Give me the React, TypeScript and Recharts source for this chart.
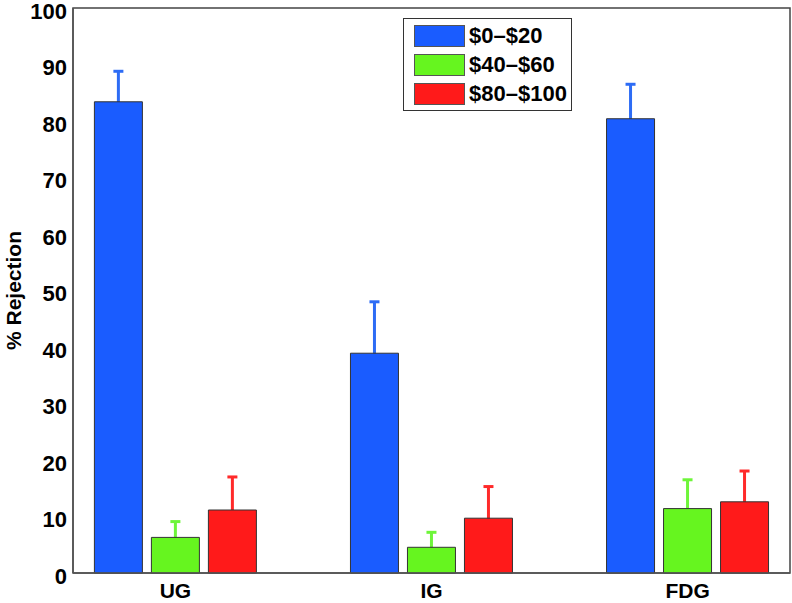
import React from 'react';
import { BarChart, Bar, XAxis, YAxis, ErrorBar, Legend, ReferenceArea } from 'recharts';

const categories = ['UG', 'IG', 'FDG'];
const positions = [1, 2, 3];
const seriesNames = ['$0–$20', '$40–$60', '$80–$100'];
const lowValues = [83.4, 38.9, 80.4];
const lowErrors = [5.4, 9.1, 6.1];
const midValues = [6.3, 4.55, 11.4];
const midErrors = [2.8, 2.65, 5.1];
const highValues = [11.15, 9.7, 12.6];
const highErrors = [5.85, 5.6, 5.45];
const yTicks = [0, 10, 20, 30, 40, 50, 60, 70, 80, 90, 100];

const colors = ['#1a5cff', '#66f51f', '#ff1a1a'];
const errColors = ['#2d6cf5', '#6ef53a', '#ff2a2a'];

const data = categories.map((c, i) => ({
  x: positions[i],
  name: c,
  low: lowValues[i],
  lowErr: lowErrors[i],
  mid: midValues[i],
  midErr: midErrors[i],
  high: highValues[i],
  highErr: highErrors[i],
}));

const FONT = 'Liberation Sans, Arial, Helvetica, sans-serif';

const LegendBox = () => (
  <div
    style={{
      position: 'absolute',
      left: 403,
      top: 18,
      width: 167,
      height: 91,
      border: '1px solid #333',
      background: '#fff',
      fontFamily: FONT,
      fontWeight: 'bold',
      fontSize: 22,
      color: '#000',
    }}
  >
    {seriesNames.map((n, i) => (
      <div key={n} style={{ position: 'absolute', left: 10, top: 6 + i * 29, height: 22, display: 'flex', alignItems: 'center' }}>
        <div style={{ width: 49, height: 20, background: colors[i], border: '1px solid #555' }} />
        <span style={{ marginLeft: 4, lineHeight: '22px', whiteSpace: 'nowrap' }}>{n}</span>
      </div>
    ))}
  </div>
);

export default function App() {
  return (
    <div style={{ position: 'absolute', left: 0, top: 0, width: 792, height: 603, background: '#fff' }}>
      <BarChart
        width={792}
        height={603}
        data={data}
        margin={{ top: 8, right: 2, bottom: 0, left: 0 }}
        barSize={48}
        barGap={9}
      >
        <ReferenceArea x1={0.6} x2={3.4} y1={0} y2={100} fill="none" stroke="#444" strokeWidth={1.5} ifOverflow="visible" />
        <XAxis
          type="number"
          dataKey="x"
          domain={[0.6, 3.4]}
          ticks={positions}
          tickFormatter={(v: number) => categories[positions.indexOf(v)] ?? ''}
          allowDataOverflow
          height={30}
          tickLine={false}
          tickSize={0}
          tickMargin={10}
          stroke="#555"
          strokeWidth={1.5}
          tick={{ fill: '#000', fontFamily: FONT, fontWeight: 'bold', fontSize: 21 }}
        />
        <YAxis
          type="number"
          domain={[0, 100]}
          ticks={yTicks}
          interval={0}
          width={73}
          tickLine={false}
          tickSize={0}
          tickMargin={6}
          stroke="#555"
          strokeWidth={1.5}
          tick={{ fill: '#000', fontFamily: FONT, fontWeight: 'bold', fontSize: 22, dy: 3 }}
          label={{
            value: '% Rejection',
            angle: -90,
            position: 'insideLeft',
            offset: 14,
            style: { textAnchor: 'middle', fill: '#000', fontFamily: FONT, fontWeight: 'bold', fontSize: 21 },
          }}
        />
        <Legend layout="horizontal" verticalAlign="middle" align="center" content={() => <LegendBox />} wrapperStyle={{ left: 0, top: 0, width: 0, height: 0 }} />
        <Bar dataKey="low" name={seriesNames[0]} fill={colors[0]} stroke="#333" strokeWidth={1} isAnimationActive={false}>
          <ErrorBar dataKey="lowErr" direction="y" width={5} stroke={errColors[0]} strokeWidth={3} zIndex={100} />
        </Bar>
        <Bar dataKey="mid" name={seriesNames[1]} fill={colors[1]} stroke="#333" strokeWidth={1} isAnimationActive={false}>
          <ErrorBar dataKey="midErr" direction="y" width={5} stroke={errColors[1]} strokeWidth={3} zIndex={100} />
        </Bar>
        <Bar dataKey="high" name={seriesNames[2]} fill={colors[2]} stroke="#333" strokeWidth={1} isAnimationActive={false}>
          <ErrorBar dataKey="highErr" direction="y" width={5} stroke={errColors[2]} strokeWidth={3} zIndex={100} />
        </Bar>
      </BarChart>
    </div>
  );
}
